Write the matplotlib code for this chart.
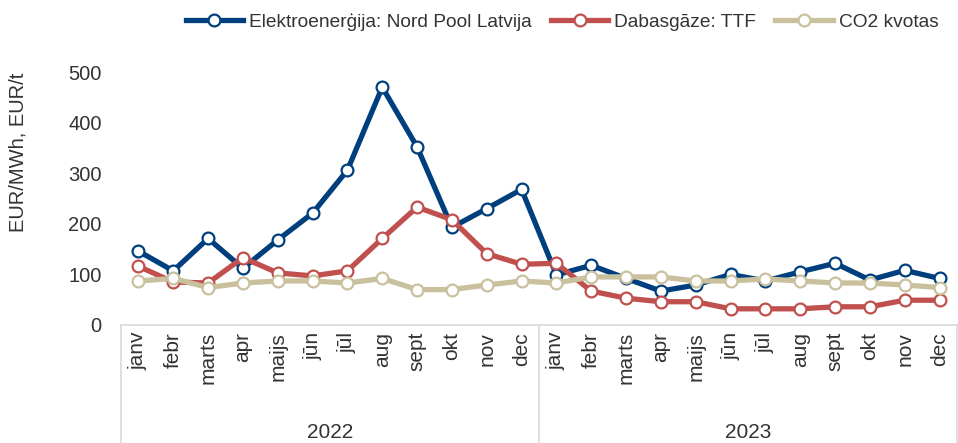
import numpy as np
from matplotlib import pyplot as plt

plt.rcParams['font.family'] = ['Liberation Sans', 'DejaVu Sans']

months = ["janv", "febr", "marts", "apr", "maijs", "jūn",
          "jūl", "aug", "sept", "okt", "nov", "dec"]
years = ["2022", "2023"]

elektro = [146, 107, 171, 112, 168, 221, 306, 470, 352, 193, 230, 268,
           99, 118, 92, 67, 79, 100, 87, 105, 122, 89, 108, 92]
gaze = [116, 85, 83, 133, 103, 97, 107, 171, 233, 208, 141, 120,
        122, 67, 53, 46, 46, 32, 32, 32, 36, 36, 49, 49]
co2 = [87, 92, 74, 83, 87, 87, 83, 92, 70, 70, 79, 87,
       83, 95, 95, 95, 87, 87, 91, 87, 83, 83, 79, 74]

series = [
    ("Elektroenerģija: Nord Pool Latvija", elektro, "#003f7d"),
    ("Dabasgāze: TTF", gaze, "#c0504d"),
    ("CO2 kvotas", co2, "#c9c09e"),
]

W, H = 958, 443
text_color = "#333333"


def main():
    fig = plt.figure(figsize=(W / 100, H / 100), dpi=100)
    ax = fig.add_axes([121 / W, (H - 325) / H, 836 / W, 253 / H])

    x = np.arange(len(elektro))
    for label, values, color in series:
        ax.plot(x, values, color=color, lw=3.8, marker="o", ms=8.5,
                mfc="white", mec=color, mew=1.6, label=label,
                solid_joinstyle="miter", clip_on=False)

    ax.set_xlim(-0.5, len(x) - 0.5)
    ax.set_ylim(0, 500)
    ax.set_yticks(np.arange(0, 501, 100))
    ax.tick_params(axis="y", length=0, pad=14, labelsize=14.5,
                   labelcolor=text_color)
    ax.set_xticks(x)
    ax.set_xticklabels(months * len(years), rotation=90, fontsize=15,
                       color=text_color)
    ax.tick_params(axis="x", length=0, pad=5)

    for side in ["top", "right", "left"]:
        ax.spines[side].set_visible(False)
    ax.spines["bottom"].set_color("#d9d9d9")
    ax.spines["bottom"].set_linewidth(1.2)

    # year separators below the axis
    trans = ax.get_xaxis_transform()
    for b in [-0.5, 11.5, 23.5]:
        ax.plot([b, b], [0, -0.47], transform=trans, color="#d9d9d9",
                lw=1.2, clip_on=False)
    for i, year in enumerate(years):
        ax.text(5.5 + 12 * i, -0.423, year, transform=trans, ha="center",
                va="center", fontsize=15, color=text_color)

    fig.text(18 / W, 1 - 152 / H, "EUR/MWh, EUR/t", rotation=90,
             ha="center", va="center", fontsize=14.5, color=text_color)

    fig.legend(loc="center", bbox_to_anchor=(562 / W, 1 - 22 / H),
               ncol=3, frameon=False, fontsize=13.8, handlelength=3.0,
               handletextpad=0.3, columnspacing=1.0, labelcolor=text_color)

    fig.savefig("out.png", dpi=100)


if __name__ == "__main__":
    main()
